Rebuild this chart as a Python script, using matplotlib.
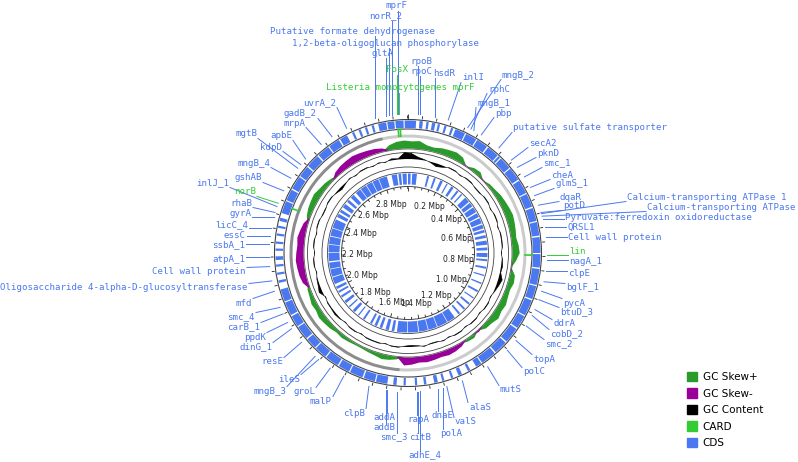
import numpy as np
import matplotlib.pyplot as plt
from matplotlib.patches import Wedge, Circle, Patch
from matplotlib.collections import LineCollection

# genome size in kb
genome_kb = 2952

# CDS blocks (kb) on the outer and inner feature rings
outer_cds = [(0, 29), (41, 53), (66, 74), (86, 98), (107, 115), (131, 139), (156, 164),
             (172, 209), (213, 254), (258, 300), (305, 349), (353, 361), (365, 410),
             (414, 462), (467, 517), (521, 570), (575, 623), (627, 676), (681, 738),
             (742, 790), (795, 853), (857, 905), (910, 968), (972, 1020), (1025, 1082),
             (1087, 1136), (1141, 1197), (1201, 1222),
             (1246, 1255), (1279, 1292), (1312, 1320), (1345, 1353), (1369, 1382),
             (1410, 1419), (1443, 1451), (1484, 1492), (1517, 1529),
             (1550, 1591), (1595, 1636), (1641, 1689), (1693, 1734), (1739, 1788),
             (1792, 1837), (1841, 1881), (1886, 1935), (1939, 1980), (1985, 2034), (2038, 2083),
             (2107, 2116), (2136, 2144), (2165, 2173), (2189, 2202), (2222, 2230),
             (2247, 2255), (2276, 2284), (2304, 2312), (2329, 2341),
             (2358, 2403), (2407, 2448), (2453, 2501), (2505, 2546), (2551, 2599),
             (2604, 2649), (2653, 2694), (2699, 2727),
             (2747, 2755), (2772, 2780), (2796, 2804), (2821, 2829),
             (2845, 2874), (2878, 2903), (2907, 2936), (2940, 2952)]

inner_cds = [(0, 16), (25, 53), (115, 127), (156, 168), (197, 213), (238, 246), (271, 287),
             (312, 324), (344, 353), (377, 410), (418, 443), (451, 484), (492, 517),
             (525, 558), (566, 590), (599, 615), (631, 648), (664, 689), (705, 722),
             (738, 763), (775, 787), (820, 832), (869, 877), (918, 927), (968, 980),
             (1017, 1025), (1058, 1070), (1099, 1111), (1140, 1152),
             (1181, 1230), (1234, 1296), (1300, 1353), (1357, 1410), (1415, 1476), (1480, 1542),
             (1558, 1574), (1591, 1611), (1632, 1648), (1665, 1681), (1697, 1710),
             (1747, 1759), (1788, 1796), (1820, 1837), (1861, 1870), (1894, 1911),
             (1935, 1948), (1968, 1980), (1993, 2009),
             (2025, 2066), (2071, 2116), (2120, 2157), (2165, 2214), (2218, 2263),
             (2267, 2312), (2317, 2362), (2366, 2419),
             (2435, 2456), (2468, 2485), (2501, 2526), (2542, 2558), (2575, 2599),
             (2616, 2649), (2653, 2690), (2694, 2731), (2735, 2772), (2776, 2825),
             (2854, 2886), (2895, 2911), (2919, 2944)]

# GC skew and GC content, 90 equal windows around the genome
gc_skew = [9, 10, 6, 5, 7, 8, 9, 7, -1, 4,
           5, -1, 3, 4, 6, 7, 8, 9, 8, 7,
           6, 8, 9, 5, -1, 6, 7, 5, 6, 8,
           7, 9, 6, 5, -2, 4, 3, -4, -6, -7,
           -6, -7, -8, -7, -9, -10, 3, 5, 6, 4,
           3, 2, 2, 3, 4, 3, 5, 6, 7, 5,
           6, 4, 3, -6, -8, -9, -10, -9, -8, -9,
           -7, -5, 4, 6, 7, 8, 6, 5, 3, -5,
           -7, -8, -9, -8, -7, -6, -4, 6, 9, 10]

gc_content = [7, 3, 1, -1, -4, -2, 1, 1, -1, 1,
              1, -1, -1, 1, 1, -1, 1, 1, -1, 1,
              1, 1, -1, 1, 2, 1, 5, 3, 1, -1,
              1, 1, -1, 1, 1, -1, 1, 1, -1, 1,
              -1, -1, 1, -1, -2, -1, 1, 1, -1, 1,
              1, 1, -1, 1, 1, -1, 1, 2, 1, 1,
              -1, 4, 2, 1, -1, 1, 1, -1, 1, 1,
              -1, 1, 1, -1, -1, 1, 1, -1, -3, -1,
              1, -1, 1, 1, -1, 1, -1, 2, 1, 8]

# cumulative skew turning points (kb)
skew_min_kb, skew_max_kb = 1509, 2850

gene_names = ["mprF", "norR_2", "Putative formate dehydrogenase",
              "1,2-beta-oligoglucan phosphorylase", "gltA", "rpoB", "rpoC", "hsdR",
              "inlI", "mngB_2", "rphC", "mngB_1", "pbp", "putative sulfate transporter",
              "secA2", "pknD", "smc_1", "cheA", "glmS_1", "dqaR", "potD",
              "Calcium-transporting ATPase 1", "Calcium-transporting ATPase",
              "Pyruvate:ferredoxin oxidoreductase", "QRSL1", "Cell wall protein",
              "nagA_1", "clpE", "bglF_1", "pycA", "btuD_3", "ddrA", "cobD_2", "smc_2",
              "topA", "polC", "mutS", "alaS", "valS", "polA", "dnaE", "rapA", "citB",
              "adhE_4", "smc_3", "addA", "addB", "clpB", "malP", "groL", "ileS",
              "mngB_3", "resE", "dinG_1", "ppdK", "carB_1", "smc_4", "mfd",
              "Oligosaccharide 4-alpha-D-glucosyltransferase", "Cell wall protein",
              "atpA_1", "ssbA_1", "essC", "licC_4", "gyrA", "rhaB", "inlJ_1", "gshAB",
              "mngB_4", "mgtB", "kdpD", "apbE", "mrpA", "gadB_2", "uvrA_2"]
gene_kb = [2918, 2899, 2840, 2889, 2878, 35, 39, 93, 138, 209, 221, 232, 261, 335,
           394, 426, 466, 507, 538, 573, 599, 603, 612, 623, 651, 685, 763, 799, 836,
           869, 899, 935, 957, 998, 1058, 1102, 1189, 1287, 1343, 1357, 1374, 1447,
           1442, 1435, 1513, 1547, 1552, 1610, 1702, 1755, 1804, 1820, 1886, 1943,
           1968, 2001, 2025, 2083, 2119, 2168, 2201, 2244, 2270, 2299, 2337, 2353,
           2374, 2432, 2481, 2522, 2538, 2563, 2635, 2680, 2737]

card_names = ["FosX", "Listeria monocytogenes mprF", "lin", "norB"]
card_kb = [2915, 2923, 746, 2386]

legend_labels = ["GC Skew+", "GC Skew-", "GC Content", "CARD", "CDS"]

# label placement in pixels (x, y, ha)
gene_xy = [(396, 6, "c"), (386, 16, "c"), (352, 31, "c"), (386, 43, "c"), (382, 53, "c"),
           (421, 61, "c"), (421, 71, "c"), (444, 73, "c"), (462, 78, "l"), (502, 75, "l"),
           (488, 89, "l"), (477, 103, "l"), (495, 113, "l"), (513, 128, "l"),
           (529, 143, "l"), (537, 153, "l"), (543, 163, "l"), (551, 175, "l"),
           (555, 184, "l"), (560, 197, "l"), (563, 206, "l"), (627, 197, "l"),
           (647, 207, "l"), (565, 217, "l"), (567, 227, "l"), (568, 238, "l"),
           (569, 262, "l"), (568, 274, "l"), (566, 288, "l"), (563, 303, "l"),
           (560, 312, "l"), (553, 324, "l"), (550, 334, "l"), (545, 344, "l"),
           (533, 359, "l"), (523, 372, "l"), (500, 390, "l"), (469, 407, "l"),
           (455, 422, "l"), (451, 433, "c"), (443, 415, "c"), (418, 419, "c"),
           (420, 437, "c"), (425, 455, "c"), (394, 437, "c"), (384, 417, "c"),
           (384, 428, "c"), (354, 413, "c"), (332, 401, "r"), (315, 392, "r"),
           (300, 379, "r"), (286, 391, "r"), (283, 362, "r"), (272, 347, "r"),
           (266, 337, "r"), (260, 327, "r"), (255, 317, "r"), (252, 303, "r"),
           (248, 288, "r"), (246, 272, "r"), (245, 260, "r"), (245, 245, "r"),
           (246, 235, "r"), (248, 225, "r"), (251, 213, "r"), (252, 203, "r"),
           (229, 183, "r"), (262, 178, "r"), (270, 163, "r"), (257, 134, "r"),
           (282, 147, "r"), (292, 136, "r"), (305, 123, "r"), (317, 114, "r"),
           (336, 103, "r")]
card_xy = [(397, 70, "c"), (400, 88, "c"), (569, 251, "l"), (256, 192, "r")]

CX, CY = 408, 253
cds_color = "#4a78f0"
card_color = "#33cc33"
pos_color = "#2a9a2a"
neg_color = "#990099"
line_color = "#444444"

fig = plt.figure(figsize=(7.98, 4.62), dpi=100)
ax = fig.add_axes([0, 0, 1, 1])
ax.set_xlim(0, 798)
ax.set_ylim(462, 0)
ax.axis("off")


def ang(kb):
    return kb / genome_kb * 360.0


def xy(kb, r):
    t = np.deg2rad(ang(np.asarray(kb, dtype=float)))
    return CX + r * np.sin(t), CY - r * np.cos(t)


def arc(kb1, kb2, r_in, r_out, color):
    ax.add_patch(Wedge((CX, CY), r_out, ang(kb1) - 90, ang(kb2) - 90,
                       width=r_out - r_in, facecolor=color, lw=0))


def ring(r, lw=0.6, color=line_color):
    ax.add_patch(Circle((CX, CY), r, fill=False, lw=lw, ec=color))


def radial_fill(values, base, k, color, outline=0):
    # fill between a baseline circle and the value curve (like fill_between)
    n = len(values)
    w = genome_kb / n
    pos = (np.arange(n + 1) + 0.5) * w
    vals = np.append(values, values[0])
    ox, oy = xy(pos, base + vals * k)
    ix, iy = xy(pos[::-1], np.full(n + 1, base))
    ax.fill(np.r_[ox, ix], np.r_[oy, iy], color=color, lw=0)
    if outline:
        ax.plot(ox, oy, color=color, lw=outline)


# outer CDS ring
for s, e in outer_cds:
    arc(s, e, 125, 132.5, cds_color)
ring(133.5, 0.8)
ring(124, 0.8)
ticks = [[xy(k, 134.5), xy(k, 137.5 if k else 139.5)] for k in range(0, genome_kb, 50)]
ax.add_collection(LineCollection(ticks, colors="#222222", lw=0.6))

# CARD hits
for k in card_kb:
    x0, y0 = xy(k, 117)
    x1, y1 = xy(k, 124)
    ax.plot([x0, x1], [y0, y1], color=card_color, lw=1.2)

# skew halves
arc(skew_min_kb, skew_max_kb, 115.5, 118.5, "#8c8c8c")
arc(skew_max_kb, skew_min_kb + genome_kb, 115.5, 118.5, "#cbcbcb")

# GC skew
skew = np.array(gc_skew, dtype=float)
radial_fill(np.clip(skew, 0, None), 104.5, 0.8, pos_color)
radial_fill(np.clip(-skew, 0, None), 104.5, 0.8, neg_color)
ring(104, 0.5)
ring(100.5, 0.6)

# GC content
radial_fill(np.array(gc_content, dtype=float), 94, 0.8, "black", outline=0.4)
ring(86, 0.6)
ring(80.5, 0.6)

# inner CDS ring
for s, e in inner_cds:
    arc(s, e, 68.5, 79.5, cds_color)
ring(66.5, 0.7)
ticks = [[xy(k, 66.5), xy(k, 62.5 if k % 200 == 0 else 64)] for k in range(0, genome_kb, 50)]
ax.add_collection(LineCollection(ticks, colors="#222222", lw=0.6))
for k in range(200, genome_kb, 200):
    x, y = xy(k, 51)
    ax.text(x, y, f"{k / 1000:.1f} Mbp", ha="center", va="center", fontsize=5.5,
            color="#222222")

# feature labels with leader lines
ha_map = {"l": "left", "r": "right", "c": "center"}


def put_label(name, kb, x, y, ha, color):
    ax.text(x, y, name, ha=ha_map[ha], va="center", fontsize=6.6, color=color,
            family="DejaVu Sans Mono")
    wd = len(name) * 5.52
    x0 = {"l": x, "r": x - wd, "c": x - wd / 2}[ha]
    px, py = xy(kb, 139)
    qx = min(max(px, x0 - 1), x0 + wd + 1)
    qy = min(max(py, y - 4.5), y + 4.5)
    ax.plot([px, qx], [py, qy], color=color, lw=0.7)


for name, kb, (x, y, ha) in zip(gene_names, gene_kb, gene_xy):
    put_label(name, kb, x, y, ha, cds_color)
for name, kb, (x, y, ha) in zip(card_names, card_kb, card_xy):
    put_label(name, kb, x, y, ha, card_color)

handles = [Patch(color=c) for c in [pos_color, neg_color, "black", card_color, cds_color]]
ax.legend(handles, legend_labels, loc="lower left", bbox_to_anchor=(687 / 798, 14 / 462),
          frameon=False, fontsize=7.5, handlelength=1.0, handleheight=1.0,
          handletextpad=0.5, labelspacing=0.6, borderpad=0, borderaxespad=0)

fig.savefig("out.png", dpi=100)
